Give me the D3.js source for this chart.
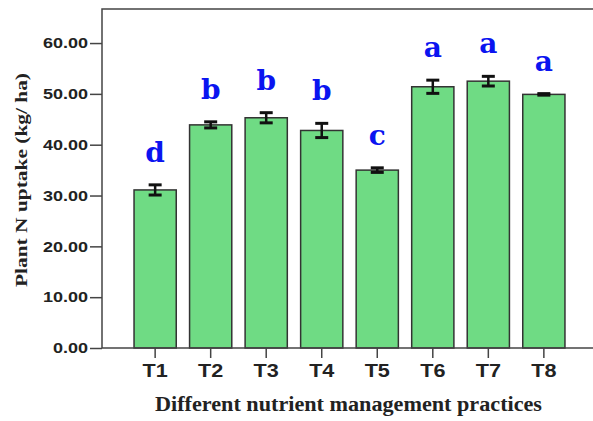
<!DOCTYPE html>
<html>
<head>
<meta charset="utf-8">
<script src="https://cdn.jsdelivr.net/npm/d3@7"></script>
<style>
  html, body { margin: 0; padding: 0; background: #fff; }
  svg { display: block; }
</style>
</head>
<body>
<svg id="chart" width="593" height="421"></svg>
<script>
// Plant N uptake by nutrient management treatment
const treatments = ["T1", "T2", "T3", "T4", "T5", "T6", "T7", "T8"];
const uptake     = [31.1, 43.9, 45.3, 42.8, 35.0, 51.4, 52.5, 49.9];
const stdError   = [1.0, 0.6, 1.0, 1.4, 0.45, 1.3, 0.95, 0.15];
const groups     = ["d", "b", "b", "b", "c", "a", "a", "a"];
const yTicks     = [0, 10, 20, 30, 40, 50, 60];

const svg = d3.select("#chart");
const plotLeft = 102, plotTop = 9, plotBottom = 348, plotRight = 597;
const stretch = 1.2;   // text is drawn slightly wide

const x = d3.scaleBand()
  .domain(treatments)
  .range([plotLeft, plotRight])
  .paddingInner(0.24)
  .paddingOuter(0.577);

const y = d3.scaleLinear()
  .domain([0, 66.7])
  .range([plotBottom, plotTop]);

const ink = "#222";
const sans = "'Liberation Sans', Arial, sans-serif";
const serif = "'Liberation Serif', 'Times New Roman', serif";

// frame (left and top edges)
svg.append("path")
  .attr("d", `M${plotLeft},${plotBottom}V${plotTop}H${plotRight}`)
  .attr("fill", "none")
  .attr("stroke", "#444")
  .attr("stroke-width", 1.5);

// bars
svg.append("g").selectAll("rect")
  .data(treatments)
  .join("rect")
  .attr("x", d => x(d))
  .attr("width", x.bandwidth())
  .attr("y", (d, i) => y(uptake[i]))
  .attr("height", (d, i) => y(0) - y(uptake[i]))
  .attr("fill", "#6fdb84")
  .attr("stroke", "#333")
  .attr("stroke-width", 1.5);

// error bars
const eb = svg.append("g").attr("stroke", "#111");
treatments.forEach((t, i) => {
  const cx = x(t) + x.bandwidth() / 2;
  const hi = y(uptake[i] + stdError[i]);
  const lo = y(uptake[i] - stdError[i]);
  eb.append("line").attr("x1", cx).attr("x2", cx).attr("y1", hi).attr("y2", lo)
    .attr("stroke-width", 2.5);
  [hi, lo].forEach(v => eb.append("line")
    .attr("x1", cx - 6.5).attr("x2", cx + 6.5).attr("y1", v).attr("y2", v)
    .attr("stroke-width", 3));
});

// significance letters
svg.append("g").selectAll("text")
  .data(treatments)
  .join("text")
  .attr("x", d => x(d) + x.bandwidth() / 2)
  .attr("y", (d, i) => y(uptake[i] + stdError[i]) - 23)
  .attr("text-anchor", "middle")
  .attr("font-family", "'DejaVu Serif', serif")
  .attr("font-weight", "bold")
  .attr("font-size", 28)
  .attr("fill", "#0a14f0")
  .text((d, i) => groups[i]);

// y axis
const yAxis = svg.append("g")
  .attr("transform", `translate(${plotLeft},0)`)
  .call(d3.axisLeft(y).tickValues(yTicks).tickFormat(d3.format(".2f")).tickSize(12).tickPadding(2));
yAxis.select(".domain").remove();
yAxis.selectAll("line").attr("stroke", "#444").attr("stroke-width", 1.5);
yAxis.selectAll("text")
  .attr("x", 0)
  .attr("transform", `translate(-14,0) scale(${stretch},1)`)
  .attr("font-family", sans)
  .attr("font-weight", "bold")
  .attr("font-size", 15)
  .attr("fill", ink);

// x axis
const xAxis = svg.append("g")
  .attr("transform", `translate(0,${plotBottom})`)
  .call(d3.axisBottom(x).tickSize(10).tickPadding(6).tickSizeOuter(0));
xAxis.select(".domain").attr("d", `M${plotLeft},0H${plotRight}`).attr("stroke", "#444").attr("stroke-width", 1.5);
xAxis.selectAll(".tick line").attr("stroke", "#444").attr("stroke-width", 1.5);
xAxis.selectAll("text")
  .attr("y", 0)
  .attr("transform", `translate(0,16) scale(${stretch},1)`)
  .attr("font-family", sans)
  .attr("font-weight", "bold")
  .attr("font-size", 18)
  .attr("fill", ink);

// axis titles
svg.append("text")
  .attr("x", 348.5)
  .attr("y", 411)
  .attr("text-anchor", "middle")
  .attr("font-family", serif)
  .attr("font-weight", "bold")
  .attr("font-size", 20)
  .attr("textLength", 387)
  .attr("lengthAdjust", "spacingAndGlyphs")
  .attr("fill", ink)
  .text("Different nutrient management practices");

svg.append("text")
  .attr("transform", "translate(27,180) rotate(-90)")
  .attr("text-anchor", "middle")
  .attr("font-family", serif)
  .attr("font-weight", "bold")
  .attr("font-size", 17)
  .attr("textLength", 214)
  .attr("lengthAdjust", "spacingAndGlyphs")
  .attr("fill", ink)
  .text("Plant N uptake (kg/ ha)");
</script>
</body>
</html>
